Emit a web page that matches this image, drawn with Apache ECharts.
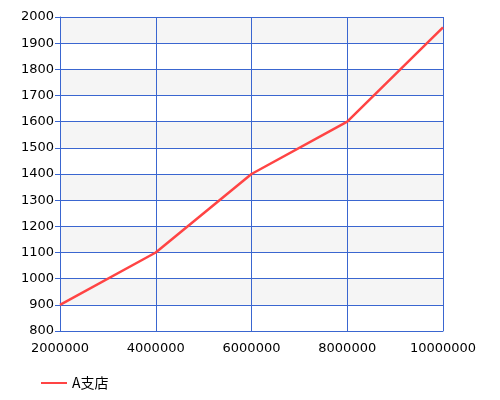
<!DOCTYPE html>
<html><head><meta charset="utf-8">
<script src="https://cdn.jsdelivr.net/npm/echarts@6/dist/echarts.min.js"></script>
<style>html,body{margin:0;padding:0;background:#fff}#c{width:500px;height:400px}</style>
</head><body><div id="c"></div>
<script>
const seriesName = 'A支店';
const xValues = [2000000, 4000000, 6000000, 8000000, 10000000];
const yValues = [900, 1100, 1400, 1600, 1960];
const gridColor = '#3a66d0';
const chart = echarts.init(document.getElementById('c'));
chart.setOption({
  animation: false,
  textStyle: {fontFamily: 'DejaVu Sans', color: '#000'},
  grid: {left: 60, right: 57, top: 17, bottom: 69},
  legend: {
    left: 36, top: 371, itemWidth: 26, itemHeight: 2, itemGap: 10,
    icon: 'rect',
    textStyle: {fontSize: 14, color: '#000', fontFamily: 'Noto Sans CJK JP'},
    data: [seriesName]
  },
  xAxis: {
    type: 'value', min: 2000000, max: 10000000, interval: 2000000,
    axisLine: {lineStyle: {color: gridColor, width: 1}},
    axisTick: {show: false},
    splitLine: {show: true, lineStyle: {color: gridColor, width: 1}},
    axisLabel: {fontSize: 13, color: '#000', margin: 11, fontFamily: 'DejaVu Sans', formatter: v => String(v)}
  },
  yAxis: {
    type: 'value', min: 800, max: 2000, interval: 100,
    axisLine: {show: true, lineStyle: {color: gridColor, width: 1}},
    axisTick: {show: true, length: 5, lineStyle: {color: gridColor}},
    splitLine: {show: true, lineStyle: {color: gridColor, width: 1}},
    splitArea: {show: true, areaStyle: {color: ['#ffffff', '#f5f5f5']}},
    axisLabel: {fontSize: 13, color: '#000', margin: 6, fontFamily: 'DejaVu Sans', formatter: v => String(v)}
  },
  series: [{
    name: seriesName, type: 'line', symbol: 'none',
    lineStyle: {color: '#ff4444', width: 2.5},
    itemStyle: {color: '#ff4444'},
    data: xValues.map((x, i) => [x, yValues[i]])
  }]
});
</script></body></html>
